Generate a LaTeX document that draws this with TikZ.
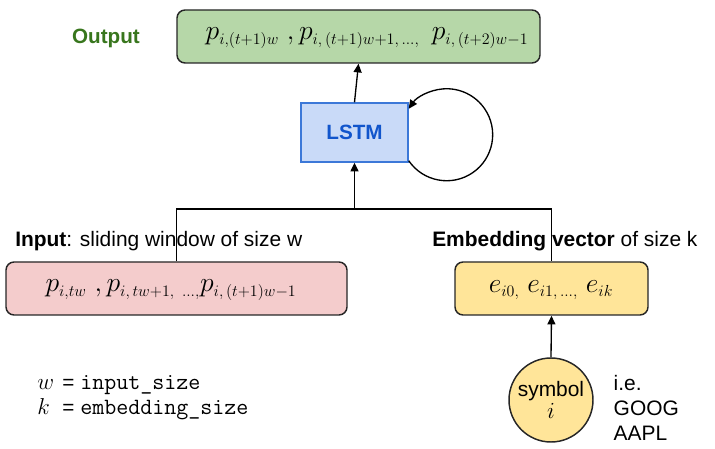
\documentclass[tikz,border=0pt]{standalone}
\usepackage{fontspec}
\setmainfont{Liberation Sans}
\usetikzlibrary{arrows.meta}
\DeclareMathSizes{21}{21}{12.5}{10}
\definecolor{outfill}{HTML}{B6D7A8}
\definecolor{outtext}{HTML}{38761D}
\definecolor{lstmfill}{HTML}{C9DAF8}
\definecolor{lstmdraw}{HTML}{3C78D8}
\definecolor{lstmtext}{HTML}{1155CC}
\definecolor{inpfill}{HTML}{F4CCCC}
\definecolor{embfill}{HTML}{FFE599}
\begin{document}
\begin{tikzpicture}[x=0.75pt,y=-0.75pt,
  box/.style={draw=black!85, line width=1.1pt, rounded corners=6pt, inner sep=0pt},
  mathtxt/.style={font=\fontsize{21}{24}\selectfont},
  sans/.style={font=\fontsize{15.7}{18.75}\selectfont},
  legvar/.style={anchor=base west, inner sep=0pt, font=\fontsize{16}{18}\selectfont},
  legeq/.style={anchor=base west, inner sep=0pt, font=\fontsize{15.5}{18}\selectfont},
  legtt/.style={anchor=base west, inner sep=0pt, font=\fontsize{17.5}{18}\selectfont\ttfamily},
  conn/.style={line width=1pt},
  arr/.style={conn, -{Triangle[length=6.5pt,width=6pt]}}]
\useasboundingbox (0,0) rectangle (715,449);
% output
\node[box, fill=outfill, minimum width=363*0.75pt, minimum height=53*0.75pt] (out) at (358.5,36.5) {};
\node[mathtxt] (outtxt) at (367,38) {$p_{i,(t{+}1)w}\ ,p_{i,\,(t{+}1)w{+}1,\,\ldots,}\;\, p_{i,\,(t{+}2)w{-}1}$};
\node[font=\fontsize{15.5}{18.75}\selectfont\bfseries, text=outtext] (outlbl) at (106,38) {Output};
% lstm
\node[draw=lstmdraw, line width=1.1pt, fill=lstmfill, minimum width=107*0.75pt, minimum height=59*0.75pt, inner sep=0pt,
  font=\fontsize{15.5}{18.75}\selectfont\bfseries, text=lstmtext] (lstm) at (354.5,132.5) {LSTM};
% input
\node[sans, anchor=west, inner sep=0pt] (inplbl) at (15,241) {\textbf{Input}: sliding window of size w};
\node[box, fill=inpfill, minimum width=341*0.75pt, minimum height=53*0.75pt] (inp) at (176.5,288.5) {};
\node[mathtxt] (inptxt) at (171,290) {$p_{i,tw}\ ,p_{i,\,tw{+}1,\ \ldots,}p_{i,\,(t{+}1)w{-}1}$};
% embedding
\node[sans, anchor=west, inner sep=0pt] (emblbl) at (432,241) {\textbf{Embedding vector} of size k};
\node[box, fill=embfill, minimum width=193*0.75pt, minimum height=53*0.75pt] (emb) at (551.5,288.5) {};
\node[mathtxt] (embtxt) at (551,290) {$e_{i0,}\ e_{i1,\,\ldots,}\ e_{ik}$};
% symbol
\node[circle, draw=black!85, line width=1.1pt, fill=embfill, minimum size=84*0.75pt, inner sep=0pt,
  align=center, sans] (sym) at (551,400) {symbol\\[-2pt]{\fontsize{17}{18}\selectfont$i$}};
\node[sans, anchor=north west, align=left] (eg) at (609,371) {i.e.\\GOOG\\AAPL};
% legend
\node[legvar] (w) at (37,389) {$w$};
\node[legeq] (weq) at (62,389) {=};
\node[legtt] (wtt) at (80,389) {input\_size};
\node[legvar] (k) at (37,414) {$k$};
\node[legeq] (keq) at (62,414) {=};
\node[legtt] (ktt) at (80,414) {embedding\_size};
% connectors
\coordinate (jl) at (176.5,209);
\coordinate (jr) at (551.5,209);
\coordinate (jm) at (354.5,209);
\draw[conn] (inp.north) -- (jl) -- (jr) -- (emb.north);
\draw[arr] (jm) -- (lstm.south);
\draw[arr] (lstm.north) -- (out.south);
\draw[arr] (sym.north) -- (emb.south);
\draw[arr] ([yshift=1.5pt]lstm.south east) arc[start angle=145.6, end angle=-145.6, radius=46];
\end{tikzpicture}
\end{document}
